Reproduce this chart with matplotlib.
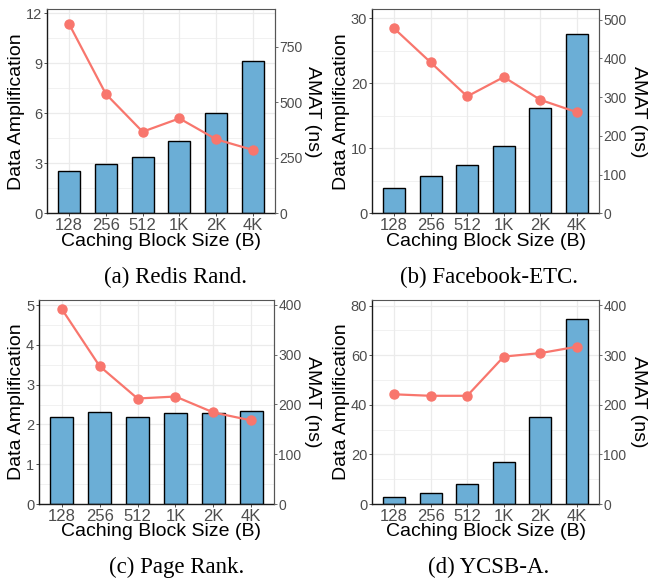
import matplotlib
matplotlib.use("Agg")
import matplotlib.pyplot as plt
import numpy as np

plt.rcParams["font.family"] = ["Liberation Sans", "DejaVu Sans"]

BAR = "#6BAED6"
LINE = "#F8766D"
GRID = "#EBEBEB"
TICK = "#4D4D4D"

block_sizes = ["128", "256", "512", "1K", "2K", "4K"]

redis_amp = [2.56, 2.94, 3.40, 4.34, 6.02, 9.14]
redis_amat = [852, 537, 367, 427, 333, 285]

fb_amp = [3.85, 5.8, 7.38, 10.3, 16.15, 27.6]
fb_amat = [478, 390, 302, 352, 293, 261]

pr_amp = [2.19, 2.31, 2.19, 2.30, 2.30, 2.34]
pr_amat = [392, 277, 212, 216, 184, 168]

ycsb_amp = [2.8, 4.4, 8.1, 16.8, 35.1, 74.5]
ycsb_amat = [221, 218, 218, 297, 304, 317]

W, H = 648, 580
fig = plt.figure(figsize=(W / 100, H / 100), dpi=100)


def px_axes(x0, y0, x1, y1):
    # pixel box (top-left origin) -> figure fraction
    return fig.add_axes([x0 / W, 1 - y1 / H, (x1 - x0) / W, (y1 - y0) / H])


def panel(box, amp, amat, ylim, yticks, rlim, rticks, caption, cap_xy, lab_x):
    ax = px_axes(*box)
    x = np.arange(len(block_sizes))
    ax.set_xlim(-0.6, len(block_sizes) - 0.4)
    ax.set_ylim(*ylim)
    ax.set_yticks(yticks)
    minor = [(a + b) / 2 for a, b in zip(yticks[:-1], yticks[1:])]
    step = yticks[1] - yticks[0]
    if yticks[-1] + step / 2 < ylim[1]:
        minor.append(yticks[-1] + step / 2)
    ax.set_yticks(minor, minor=True)
    ax.grid(True, which="major", color=GRID, lw=0.9, zorder=0)
    ax.grid(True, which="minor", axis="y", color=GRID, lw=0.5, zorder=0)
    ax.set_axisbelow(True)
    ax.bar(x, amp, width=0.6, color=BAR, edgecolor="black", lw=1.0, zorder=2)
    ax.set_xticks(x)
    ax.set_xticklabels(block_sizes)
    ax.tick_params(axis="x", which="major", labelsize=12, labelcolor=TICK,
                   color="#333333", length=2, width=0.6, pad=1.5)
    ax.tick_params(axis="y", which="major", labelsize=10.5, labelcolor=TICK,
                   color="#333333", length=2, width=0.6, pad=1.5)
    ax.tick_params(axis="y", which="minor", length=0)
    for side in ("left", "bottom"):
        ax.spines[side].set_color("#1A1A1A")
        ax.spines[side].set_linewidth(1.0)
    for side in ("top", "right"):
        ax.spines[side].set_color("#555555")
        ax.spines[side].set_linewidth(0.8)

    ax2 = ax.twinx()
    ax2.set_ylim(*rlim)
    ax2.set_yticks(rticks)
    ax2.plot(x, amat, color=LINE, lw=1.6, marker="o", markersize=6.5, zorder=3)
    ax2.tick_params(axis="y", labelsize=10, labelcolor=TICK, color="#555555",
                    length=2, width=0.6, pad=1)
    for s in ax2.spines.values():
        s.set_visible(False)
    ax2.spines["right"].set_visible(True)
    ax2.spines["right"].set_color("#555555")
    ax2.spines["right"].set_linewidth(0.8)

    x0, y0, x1, y1 = box
    cy = (y0 + y1) / 2
    fig.text(lab_x / W, 1 - cy / H, "Data Amplification", rotation=90,
             ha="center", va="center", fontsize=14)
    fig.text((lab_x + 296) / W, 1 - cy / H, "AMAT (ns)", rotation=270,
             ha="center", va="center", fontsize=14)
    fig.text((47 + 275) / 2 / W + (lab_x - 17) / W, 1 - (y1 + 28) / H,
             "Caching Block Size (B)", ha="center", va="center", fontsize=14)
    fig.text(cap_xy[0] / W, 1 - cap_xy[1] / H, caption, ha="center", va="center",
             fontsize=16.5, family=["Liberation Serif", "DejaVu Serif"])


panel((47, 9.3, 275, 213.3), redis_amp, redis_amat, (0, 12.24), [0, 3, 6, 9, 12],
      (0, 918), [0, 250, 500, 750], "(a) Redis Rand.", (176, 277), 17)
panel((372, 9.3, 599, 213.3), fb_amp, fb_amat, (0, 31.4), [0, 10, 20, 30],
      (0, 527), [0, 100, 200, 300, 400, 500], "(b) Facebook-ETC.", (489, 277), 342)
panel((39, 300, 274, 504), pr_amp, pr_amat, (0, 5.13), [0, 1, 2, 3, 4, 5],
      (0, 410), [0, 100, 200, 300, 400], "(c) Page Rank.", (177, 567), 17)
panel((372, 300, 599, 504), ycsb_amp, ycsb_amat, (0, 82.3), [0, 20, 40, 60, 80],
      (0, 411), [0, 100, 200, 300, 400], "(d) YCSB-A.", (489, 567), 342)

fig.savefig("out.png", dpi=100, facecolor="white")
